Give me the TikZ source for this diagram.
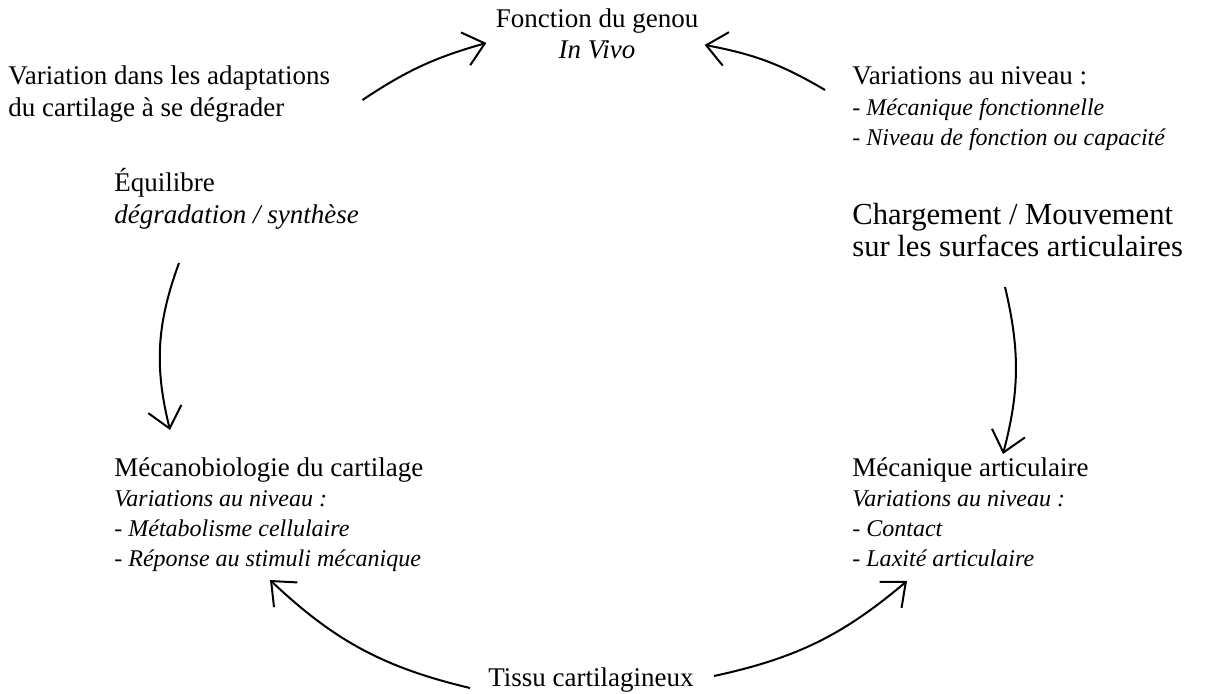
\documentclass[tikz,border=0pt]{standalone}
\usepackage{fontspec}
\setmainfont{Liberation Serif}
\usetikzlibrary{arrows.meta,calc}

\begin{document}
\begin{tikzpicture}[
		x=0.5pt, y=0.5pt,
		>={Straight Barb[length=10pt,width=17pt]},
		txt/.style={
			inner sep=0pt,
			anchor=base west,
			font=\fontsize{13.5}{16}\selectfont
		},
		txtl/.style={
			txt,
			font=\fontsize{15.3}{16}\selectfont
		},
		txti/.style={
			txt,
			font=\fontsize{13.5}{16}\selectfont\itshape
		},
		sub/.style={
			txt,
			font=\fontsize{12}{15}\selectfont\itshape
		},
		flow/.style={
			->,
			line width=1pt
		}
		]
		\useasboundingbox (0,0) rectangle (1214,694);
		
		% Knee function
		\node[txt,anchor=base] (genou) at (597,666) {Fonction du genou};
		\node[txti,anchor=base] (invivo) at (597,635) {In Vivo};
		
		% Cartilage adaptation
		\node[txt] (adaptA) at (8,609) {Variation dans les adaptations};
		\node[txt] (adaptB) at (8,577) {du cartilage à se dégrader};
		
		% Functional level
		\node[txt] (niveau) at (852,609) {Variations au niveau :};
		\node[sub] (niveauA) at (852,578) {- Mécanique fonctionnelle};
		\node[sub] (niveauB) at (852,548) {- Niveau de fonction ou capacité};
		
		% Balance
		\node[txt] (equil) at (114,502) {Équilibre};
		\node[txti] (degsyn) at (114,470) {dégradation / synthèse};
		
		% Loading
		\node[txtl] (charge) at (852,469) {Chargement / Mouvement};
		\node[txtl] (surf) at (852,437) {sur les surfaces articulaires};
		
		% Mechanobiology
		\node[txt] (mecabio) at (114,217) {Mécanobiologie du cartilage};
		\node[sub] (mecabioA) at (114,187) {Variations au niveau :};
		\node[sub] (mecabioB) at (114,157) {- Métabolisme cellulaire};
		\node[sub] (mecabioC) at (114,127) {- Réponse au stimuli mécanique};
		
		% Joint mechanics
		\node[txt] (mecart) at (852,217) {Mécanique articulaire};
		\node[sub] (mecartA) at (852,187) {Variations au niveau :};
		\node[sub] (mecartB) at (852,157) {- Contact};
		\node[sub] (mecartC) at (852,127) {- Laxité articulaire};
		
		% Tissue
		\node[txt] (tissu) at (488,7) {Tissu cartilagineux};
		
		\draw[flow] ($(adaptA.base east)+(32,-15)$) to[bend left=9] ($(genou.base west)+(-9,-15)$);
		\draw[flow] ($(niveau.base west)+(-27,-5)$) to[bend right=10] ($(genou.base east)+(6,-17)$);
		\draw[flow] ($(degsyn.base west)+(65,-39)$) to[bend right=17] ($(mecabio.base west)+(56,47)$);
		\draw[flow] ($(surf.base west)+(153,-30)$) to[bend left=14] ($(mecart.base west)+(151,23)$);
		\draw[flow] ($(tissu.base west)+(-18,-1)$) to[bend left=15] ($(mecabioC.base west)+(156,-13)$);
		\draw[flow] ($(tissu.base east)+(20,11)$) to[bend right=14] ($(mecartC.base west)+(55,-14)$);
		
	\end{tikzpicture}
\end{document}
